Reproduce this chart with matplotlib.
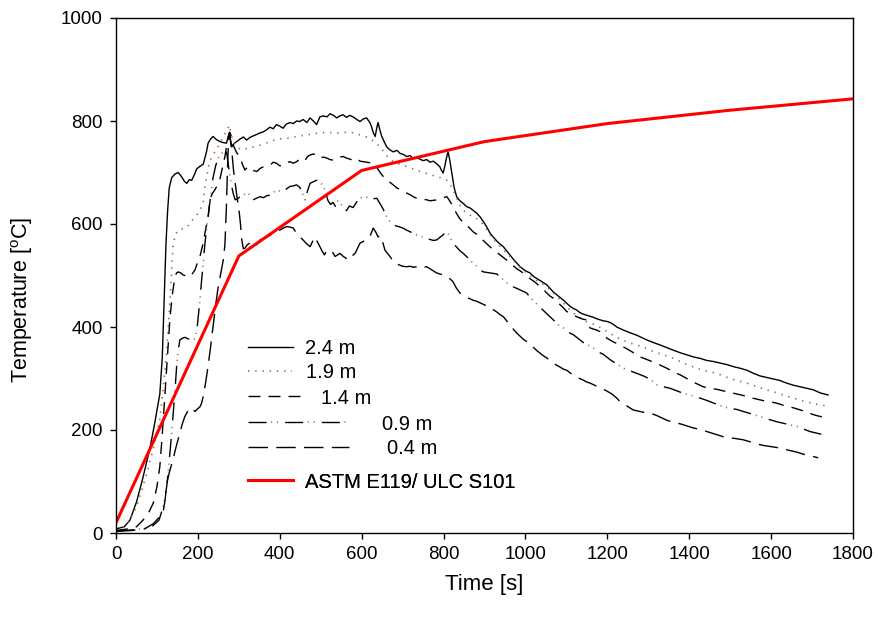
import matplotlib
matplotlib.use("Agg")
import matplotlib.pyplot as plt
from matplotlib.legend_handler import HandlerTuple

plt.rcParams['font.family'] = ['Liberation Sans', 'DejaVu Sans']
plt.rcParams['lines.scale_dashes'] = False

# ---------------- data ----------------
t_24 = [0, 20, 34, 50, 65, 83, 95, 107, 113, 118, 122, 126, 130, 136, 144, 152, 160, 167, 173, 179, 185, 191, 197, 205, 213, 217, 221, 225, 231, 237, 245, 254, 262, 270, 274, 277, 280, 283, 289, 295, 303, 311, 319, 327, 335, 344, 352, 360, 368, 376, 384, 392, 400, 408, 416, 425, 433, 441, 449, 457, 466, 474, 482, 490, 498, 506, 515, 523, 531, 539, 547, 555, 563, 571, 579, 588, 596, 604, 612, 620, 624, 629, 633, 637, 640, 644, 649, 655, 661, 669, 677, 686, 694, 702, 710, 718, 726, 734, 742, 750, 759, 767, 775, 783, 791, 795, 799, 803, 807, 811, 815, 820, 826, 832, 840, 848, 856, 865, 873, 881, 889, 897, 905, 913, 921, 930, 938, 946, 954, 962, 970, 979, 987, 995, 1003, 1011, 1020, 1028, 1036, 1044, 1052, 1060, 1068, 1076, 1085, 1093, 1101, 1109, 1117, 1125, 1133, 1141, 1149, 1157, 1165, 1174, 1182, 1190, 1198, 1206, 1215, 1223, 1231, 1239, 1255, 1272, 1288, 1296, 1312, 1329, 1345, 1361, 1378, 1394, 1410, 1427, 1443, 1459, 1475, 1492, 1508, 1524, 1541, 1557, 1573, 1589, 1605, 1622, 1638, 1654, 1671, 1687, 1703, 1720, 1739]
T_24 = [8, 12, 25, 60, 105, 165, 215, 270, 340, 460, 560, 625, 670, 690, 697, 700, 692, 683, 679, 686, 685, 695, 707, 712, 716, 728, 740, 757, 765, 770, 764, 760, 758, 757, 770, 778, 762, 750, 757, 760, 765, 769, 763, 768, 771, 774, 777, 779, 783, 788, 785, 793, 790, 786, 794, 797, 795, 800, 799, 803, 797, 806, 800, 793, 808, 810, 808, 814, 811, 806, 810, 812, 807, 811, 808, 803, 799, 804, 806, 797, 789, 776, 770, 787, 797, 784, 770, 760, 750, 744, 740, 743, 737, 735, 731, 733, 727, 729, 726, 723, 725, 720, 722, 717, 711, 704, 699, 712, 728, 740, 725, 700, 670, 653, 645, 640, 634, 631, 626, 621, 614, 605, 595, 583, 575, 567, 561, 556, 548, 540, 532, 524, 517, 512, 508, 505, 498, 494, 490, 486, 482, 475, 468, 463, 457, 452, 446, 440, 436, 433, 428, 425, 423, 421, 419, 416, 414, 412, 411, 409, 405, 400, 397, 394, 389, 384, 378, 375, 370, 365, 360, 355, 350, 346, 342, 339, 335, 333, 330, 327, 323, 320, 316, 310, 305, 302, 299, 296, 291, 287, 284, 281, 278, 272, 268]

t_19 = [0, 26, 50, 75, 90, 107, 116, 124, 128, 132, 136, 139, 145, 152, 160, 167, 173, 181, 189, 197, 205, 213, 217, 221, 226, 230, 238, 246, 254, 262, 270, 277, 281, 286, 291, 298, 305, 311, 320, 330, 344, 360, 376, 392, 408, 425, 441, 457, 466, 482, 498, 515, 531, 547, 563, 579, 596, 612, 620, 633, 645, 657, 669, 685, 701, 722, 743, 763, 783, 800, 808, 815, 823, 832, 840, 852, 865, 877, 889, 905, 917, 930, 946, 962, 979, 995, 1011, 1028, 1044, 1060, 1076, 1093, 1109, 1125, 1141, 1158, 1174, 1190, 1206, 1223, 1239, 1255, 1272, 1288, 1304, 1321, 1337, 1353, 1370, 1386, 1402, 1418, 1434, 1451, 1467, 1483, 1500, 1516, 1532, 1549, 1565, 1581, 1597, 1614, 1630, 1646, 1663, 1679, 1695, 1711, 1727, 1739]
T_19 = [6, 14, 50, 115, 160, 220, 285, 355, 405, 452, 510, 555, 580, 588, 590, 591, 593, 602, 610, 617, 627, 640, 672, 690, 712, 724, 736, 745, 758, 770, 780, 792, 775, 760, 756, 748, 745, 744, 747, 749, 751, 755, 760, 764, 766, 767, 770, 772, 773, 775, 777, 778, 777, 777, 778, 777, 773, 769, 766, 758, 750, 737, 725, 718, 714, 708, 702, 697, 692, 688, 685, 679, 667, 650, 636, 624, 617, 612, 607, 590, 575, 563, 550, 537, 522, 510, 500, 490, 482, 472, 460, 446, 433, 422, 413, 408, 403, 396, 388, 380, 374, 369, 365, 361, 355, 350, 346, 342, 336, 330, 325, 320, 316, 313, 310, 305, 300, 296, 293, 289, 284, 280, 276, 272, 268, 264, 260, 256, 253, 250, 248, 246]

t_14 = [0, 30, 50, 66, 80, 91, 100, 107, 112, 116, 120, 124, 128, 132, 138, 144, 148, 152, 158, 164, 172, 181, 187, 193, 199, 205, 209, 213, 219, 225, 230, 236, 242, 248, 254, 260, 266, 271, 275, 278, 282, 287, 295, 303, 309, 315, 321, 327, 335, 344, 352, 360, 368, 376, 384, 392, 400, 408, 416, 425, 433, 441, 449, 457, 462, 468, 474, 482, 490, 498, 506, 515, 523, 530, 539, 547, 555, 563, 571, 579, 588, 596, 604, 612, 620, 628, 637, 645, 653, 661, 669, 677, 686, 694, 702, 710, 718, 726, 734, 742, 750, 759, 767, 775, 787, 795, 803, 808, 815, 823, 832, 840, 848, 860, 872, 881, 889, 897, 905, 913, 921, 930, 938, 946, 954, 962, 970, 979, 987, 994, 1003, 1011, 1020, 1028, 1036, 1044, 1052, 1060, 1068, 1076, 1085, 1093, 1101, 1109, 1125, 1141, 1149, 1153, 1158, 1166, 1174, 1182, 1190, 1198, 1206, 1215, 1223, 1231, 1247, 1264, 1280, 1296, 1312, 1329, 1345, 1361, 1378, 1394, 1410, 1426, 1434, 1451, 1467, 1483, 1500, 1516, 1532, 1549, 1565, 1581, 1597, 1614, 1630, 1646, 1663, 1679, 1695, 1711, 1727, 1739]
T_14 = [5, 8, 12, 25, 40, 58, 90, 129, 180, 226, 275, 323, 372, 420, 465, 498, 505, 507, 505, 501, 499, 498, 504, 511, 525, 537, 550, 563, 590, 614, 650, 660, 667, 676, 688, 710, 731, 755, 770, 778, 770, 752, 738, 731, 715, 705, 710, 711, 704, 702, 708, 711, 713, 714, 720, 718, 713, 714, 719, 721, 718, 721, 726, 722, 724, 731, 734, 736, 734, 728, 730, 728, 725, 724, 727, 730, 731, 728, 726, 724, 727, 722, 721, 720, 719, 718, 710, 700, 692, 685, 681, 676, 670, 667, 663, 660, 657, 653, 650, 648, 648, 647, 645, 646, 647, 650, 652, 653, 645, 634, 620, 610, 603, 595, 585, 580, 575, 568, 562, 556, 550, 545, 540, 535, 530, 525, 519, 513, 509, 505, 499, 494, 489, 484, 478, 473, 466, 460, 456, 450, 443, 437, 430, 426, 420, 415, 414, 405, 398, 396, 394, 391, 386, 379, 375, 371, 368, 365, 358, 350, 342, 337, 332, 326, 320, 313, 307, 300, 293, 287, 284, 281, 279, 276, 273, 270, 267, 263, 260, 257, 255, 252, 248, 245, 241, 237, 232, 228, 225, 223]

t_09 = [0, 40, 70, 90, 105, 115, 120, 125, 130, 135, 139, 144, 148, 152, 156, 162, 168, 176, 185, 191, 197, 201, 205, 209, 213, 217, 221, 225, 230, 237, 244, 250, 256, 262, 267, 271, 276, 281, 286, 291, 297, 303, 311, 317, 323, 329, 335, 343, 352, 360, 368, 376, 384, 392, 400, 408, 416, 425, 433, 441, 449, 455, 462, 468, 474, 482, 490, 498, 506, 512, 518, 524, 530, 536, 542, 549, 556, 563, 570, 579, 588, 596, 604, 612, 620, 628, 637, 643, 649, 655, 661, 669, 677, 686, 694, 701, 710, 718, 726, 734, 742, 750, 759, 767, 775, 783, 791, 799, 805, 811, 817, 823, 831, 840, 848, 856, 864, 872, 881, 889, 897, 905, 913, 921, 930, 938, 946, 954, 962, 970, 979, 987, 995, 1003, 1011, 1019, 1028, 1036, 1044, 1052, 1060, 1068, 1076, 1085, 1093, 1101, 1109, 1117, 1125, 1133, 1141, 1153, 1166, 1174, 1182, 1190, 1198, 1206, 1223, 1239, 1255, 1272, 1288, 1296, 1308, 1321, 1337, 1353, 1370, 1386, 1402, 1418, 1434, 1451, 1467, 1483, 1500, 1516, 1532, 1549, 1565, 1581, 1597, 1614, 1630, 1646, 1663, 1679, 1695, 1711, 1731]
T_09 = [4, 6, 9, 14, 25, 50, 70, 97, 140, 185, 226, 275, 323, 355, 375, 378, 380, 377, 375, 376, 390, 420, 452, 490, 525, 560, 590, 614, 647, 690, 715, 728, 735, 741, 745, 735, 705, 680, 660, 647, 649, 653, 655, 661, 660, 652, 647, 650, 653, 651, 655, 656, 661, 666, 664, 663, 668, 673, 674, 676, 671, 660, 647, 665, 679, 682, 685, 680, 676, 660, 645, 638, 642, 634, 645, 640, 628, 626, 635, 632, 643, 650, 653, 652, 653, 649, 650, 642, 634, 625, 614, 605, 598, 596, 594, 592, 588, 585, 582, 579, 576, 575, 572, 570, 568, 569, 574, 579, 584, 582, 572, 563, 556, 548, 543, 537, 530, 524, 518, 511, 507, 506, 505, 504, 503, 497, 492, 486, 481, 478, 475, 472, 469, 466, 458, 451, 444, 438, 432, 426, 420, 414, 408, 401, 398, 393, 388, 385, 380, 375, 370, 365, 359, 355, 350, 347, 342, 337, 328, 320, 315, 310, 305, 302, 296, 288, 284, 281, 276, 271, 268, 264, 260, 255, 250, 245, 242, 240, 236, 232, 228, 224, 220, 216, 213, 210, 207, 202, 197, 194, 190]

t_04 = [0, 40, 70, 91, 105, 116, 120, 124, 131, 139, 147, 156, 162, 168, 175, 181, 187, 193, 199, 205, 209, 213, 217, 221, 225, 230, 237, 243, 249, 256, 262, 266, 270, 272, 274, 276, 279, 283, 287, 291, 295, 300, 304, 307, 311, 315, 321, 327, 333, 339, 346, 352, 360, 368, 376, 384, 392, 400, 408, 417, 425, 433, 441, 449, 457, 465, 474, 480, 486, 492, 498, 503, 509, 515, 523, 529, 535, 541, 547, 555, 561, 567, 575, 584, 590, 596, 604, 612, 620, 628, 634, 640, 645, 649, 653, 657, 663, 669, 675, 681, 690, 700, 710, 718, 726, 734, 742, 750, 759, 767, 775, 783, 791, 799, 808, 815, 823, 831, 840, 848, 856, 864, 872, 881, 889, 897, 905, 913, 921, 930, 938, 946, 954, 962, 970, 979, 987, 995, 1003, 1011, 1020, 1028, 1036, 1044, 1052, 1060, 1068, 1076, 1085, 1093, 1101, 1109, 1117, 1129, 1141, 1150, 1158, 1166, 1174, 1186, 1198, 1211, 1223, 1231, 1247, 1263, 1280, 1296, 1304, 1321, 1337, 1345, 1361, 1378, 1394, 1410, 1427, 1443, 1459, 1475, 1483, 1500, 1516, 1532, 1549, 1565, 1581, 1597, 1614, 1630, 1646, 1663, 1679, 1695, 1715]
T_04 = [3, 5, 8, 18, 30, 45, 65, 97, 120, 142, 168, 194, 212, 226, 236, 243, 240, 236, 241, 245, 252, 265, 283, 303, 325, 355, 400, 440, 475, 505, 530, 560, 640, 700, 745, 775, 765, 740, 705, 680, 655, 630, 600, 570, 552, 553, 560, 563, 558, 556, 563, 569, 572, 575, 578, 582, 585, 588, 592, 595, 594, 592, 582, 575, 569, 562, 556, 566, 575, 565, 556, 548, 540, 549, 549, 545, 537, 540, 543, 537, 534, 530, 537, 543, 553, 563, 566, 571, 575, 592, 585, 575, 577, 575, 560, 549, 543, 537, 530, 524, 521, 518, 517, 518, 516, 517, 519, 516, 517, 513, 509, 505, 503, 501, 498, 494, 488, 476, 466, 462, 458, 455, 452, 450, 447, 444, 441, 439, 434, 429, 424, 420, 412, 404, 396, 388, 382, 376, 372, 369, 360, 354, 349, 344, 340, 335, 330, 326, 322, 318, 316, 311, 306, 301, 297, 293, 291, 288, 285, 281, 276, 270, 262, 255, 247, 239, 236, 233, 233, 228, 222, 219, 215, 212, 208, 204, 201, 197, 193, 189, 187, 185, 183, 181, 177, 173, 170, 168, 166, 163, 160, 157, 153, 150, 146]

t_astm = [0, 300, 600, 900, 1200, 1500, 1800]
T_astm = [20, 538, 704, 760, 795, 821, 843]

labels = ['2.4 m', '1.9 m', '1.4 m', '0.9 m', '0.4 m', 'ASTM E119/ ULC S101']

# ---------------- figure ----------------
fig = plt.figure(figsize=(8.79, 6.22), dpi=100)
ax = fig.add_axes([116/879, 1-533/622, 737/879, 515/622])

brown = '#9c6b3c'
h24, = ax.plot(t_24, T_24, color='black', lw=1.0)
h19, = ax.plot(t_19, T_19, color=brown, lw=1.2, linestyle=(0, (1.0, 4.2)))
h14, = ax.plot(t_14, T_14, color='black', lw=1.0, linestyle=(0, (8.6, 5.8)))
h09a, = ax.plot(t_09, T_09, color='black', lw=1.0, linestyle=(0, (13, 13.4)))
h09b, = ax.plot(t_09, T_09, color=brown, lw=1.2, linestyle=(9.8, (0.8, 3.4, 0.8, 21.4)))
h04, = ax.plot(t_04, T_04, color='black', lw=1.0, linestyle=(0, (14, 6)))
hA, = ax.plot(t_astm, T_astm, color='#ff0000', lw=2.2, solid_joinstyle='miter')

ax.set_xlim(0, 1800)
ax.set_ylim(0, 1000)
ax.set_xticks(range(0, 1801, 200))
ax.set_yticks(range(0, 1001, 200))
ax.tick_params(axis='both', direction='out', length=4.5, width=1, labelsize=13.5,
               top=False, right=False, pad=5)
for s in ax.spines.values():
    s.set_linewidth(1.0)
ax.set_xlabel('Time [s]', fontsize=16, labelpad=8)
ax.set_ylabel('Temperature [$\\mathregular{^o}$C]', fontsize=15.5)
ax.yaxis.set_label_coords(-0.11, (533 - 300) / 515)

# legend entries (SigmaPlot-style, each with its own handle length)
fs = 14.5
fpx = fs * 100 / 72
x0 = (248 - 116) / 737
entries = [
    (h24, labels[0], 45, 12, 349),
    (h19, labels[1], 44, 14, 373),
    (h14, labels[2], 52, 21, 398),
    ((h09a, h09b), labels[3], 102, 32, 424),
    (h04, labels[4], 101, 38, 449),
    (hA, labels[5], 45, 12, 482),
]
for h, lab, hl, pad, ypx in entries:
    leg = ax.legend([h], [lab], loc='center left',
                    bbox_to_anchor=(x0, (533 - ypx) / 515),
                    frameon=False, fontsize=fs, borderpad=0, borderaxespad=0,
                    handlelength=hl / fpx, handletextpad=pad / fpx,
                    handler_map={tuple: HandlerTuple(ndivide=1)})
    ax.add_artist(leg)

fig.savefig('out.png', dpi=100)
